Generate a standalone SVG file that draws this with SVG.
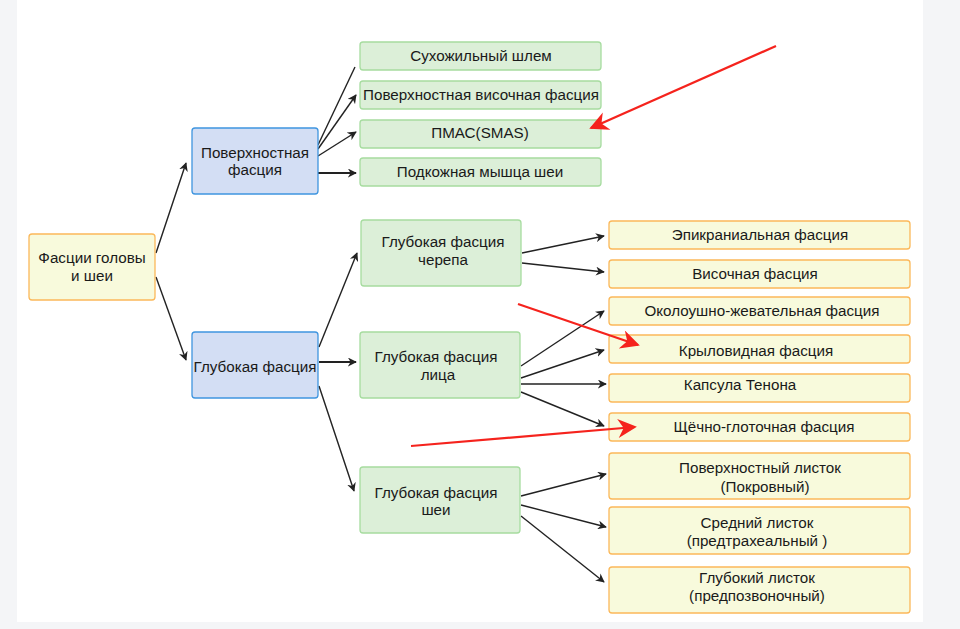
<svg xmlns="http://www.w3.org/2000/svg" width="960" height="629" viewBox="0 0 960 629">
<defs>
<style>
.t{font-family:"Liberation Sans",Arial,sans-serif;font-size:15.2px;fill:#1a1a1a;text-anchor:middle}
.y{fill:#f8fadc;stroke:#fbb85a;stroke-width:1.3}
.g{fill:#dcefd8;stroke:#a6dc9f;stroke-width:1.3}
.b{fill:#d3def4;stroke:#3f95df;stroke-width:1.3}
.c{stroke:#222;stroke-width:1.4;fill:none}
.ct{stroke:#222;stroke-width:2.2;fill:none}
.r{stroke:#f5231d;stroke-width:2.2;fill:none}
</style>
<marker id="a" viewBox="0 0 10 10" refX="9" refY="5" markerWidth="9" markerHeight="9" markerUnits="userSpaceOnUse" orient="auto">
<path d="M0,0 L10,5 L0,10 L3,5 Z" fill="#222"/>
</marker>
<marker id="ra" viewBox="0 0 10 10" refX="9" refY="5" markerWidth="21" markerHeight="19" markerUnits="userSpaceOnUse" orient="auto">
<path d="M0,0 L10,5 L0,10 L3,5 Z" fill="#f5231d"/>
</marker>
</defs>
<rect x="0" y="0" width="960" height="629" fill="#f4f5f7"/>
<rect x="17" y="0" width="906" height="622" fill="#ffffff"/>

<g id="connectors">
<line class="c" x1="156" y1="253" x2="186" y2="163" marker-end="url(#a)"/>
<line class="c" x1="156" y1="277" x2="186" y2="360" marker-end="url(#a)"/>
<line class="c" x1="318" y1="145" x2="355" y2="67"/>
<line class="c" x1="318" y1="149" x2="356" y2="95" marker-end="url(#a)"/>
<line class="c" x1="318" y1="156" x2="356" y2="132" marker-end="url(#a)"/>
<line class="ct" x1="318" y1="173" x2="356" y2="173" marker-end="url(#a)"/>
<line class="c" x1="319" y1="347" x2="357" y2="253" marker-end="url(#a)"/>
<line class="ct" x1="319" y1="362" x2="356" y2="362" marker-end="url(#a)"/>
<line class="c" x1="319" y1="386" x2="354" y2="491" marker-end="url(#a)"/>
<line class="c" x1="522" y1="253" x2="604" y2="236" marker-end="url(#a)"/>
<line class="c" x1="522" y1="263" x2="604" y2="272" marker-end="url(#a)"/>
<line class="c" x1="521" y1="366" x2="604" y2="311" marker-end="url(#a)"/>
<line class="c" x1="521" y1="378" x2="604" y2="350" marker-end="url(#a)"/>
<line class="c" x1="521" y1="384" x2="606" y2="384" marker-end="url(#a)"/>
<line class="c" x1="521" y1="392" x2="604" y2="426" marker-end="url(#a)"/>
<line class="c" x1="521" y1="496" x2="606" y2="474" marker-end="url(#a)"/>
<line class="c" x1="521" y1="505" x2="606" y2="527" marker-end="url(#a)"/>
<line class="c" x1="521" y1="516" x2="604" y2="582" marker-end="url(#a)"/>
</g>

<g id="root"><rect class="y" x="29" y="234" width="126" height="66" rx="3"/><text class="t" x="92" y="263">Фасции головы</text><text class="t" x="92" y="281">и шеи</text></g>
<g id="superficial"><rect class="b" x="192" y="128" width="126" height="66" rx="3"/><text class="t" x="255" y="158">Поверхностная</text><text class="t" x="255" y="175">фасция</text></g>
<g id="deep"><rect class="b" x="192" y="332" width="126" height="66" rx="3"/><text class="t" x="255" y="372">Глубокая фасция</text></g>

<g id="galea"><rect class="g" x="360" y="42" width="241" height="28" rx="3"/><text class="t" x="481" y="61">Сухожильный шлем</text></g>
<g id="suptemp"><rect class="g" x="360" y="81" width="241" height="28" rx="3"/><text class="t" x="481" y="100">Поверхностная височная фасция</text></g>
<g id="smas"><rect class="g" x="360" y="120" width="241" height="28" rx="3"/><text class="t" x="480" y="138">ПМАС(SMAS)</text></g>
<g id="platysma"><rect class="g" x="360" y="158" width="241" height="28" rx="3"/><text class="t" x="480" y="177">Подкожная мышца шеи</text></g>

<g id="skull"><rect class="g" x="361" y="220" width="160" height="66" rx="3"/><text class="t" x="443" y="247">Глубокая фасция</text><text class="t" x="443" y="265">черепа</text></g>
<g id="face"><rect class="g" x="360" y="332" width="160" height="66" rx="3"/><text class="t" x="436" y="362">Глубокая фасция</text><text class="t" x="438" y="380">лица</text></g>
<g id="neck"><rect class="g" x="360" y="467" width="160" height="66" rx="3"/><text class="t" x="436" y="498">Глубокая фасция</text><text class="t" x="436" y="515">шеи</text></g>

<g id="epicranial"><rect class="y" x="609" y="221" width="301" height="28" rx="3"/><text class="t" x="760" y="240">Эпикраниальная фасция</text></g>
<g id="temporal"><rect class="y" x="609" y="260" width="301" height="28" rx="3"/><text class="t" x="755" y="279">Височная фасция</text></g>
<g id="parotid"><rect class="y" x="609" y="297" width="301" height="28" rx="3"/><text class="t" x="762" y="316">Околоушно-жевательная фасция</text></g>
<g id="pterygoid"><rect class="y" x="609" y="335" width="301" height="28" rx="3"/><text class="t" x="756" y="356">Крыловидная фасция</text></g>
<g id="tenon"><rect class="y" x="609" y="374" width="301" height="28" rx="3"/><text class="t" x="740" y="390">Капсула Тенона</text></g>
<g id="bucco"><rect class="y" x="609" y="413" width="301" height="28" rx="3"/><text class="t" x="764" y="432">Щёчно-глоточная фасция</text></g>
<g id="superficial-layer"><rect class="y" x="609" y="453" width="301" height="46" rx="3"/><text class="t" x="760" y="473">Поверхностный листок</text><text class="t" x="765" y="492">(Покровный)</text></g>
<g id="middle-layer"><rect class="y" x="609" y="507" width="301" height="47" rx="3"/><text class="t" x="757" y="528">Средний листок</text><text class="t" x="757" y="546">(предтрахеальный )</text></g>
<g id="deep-layer"><rect class="y" x="609" y="567" width="301" height="46" rx="3"/><text class="t" x="757" y="583">Глубокий листок</text><text class="t" x="757" y="601">(предпозвоночный)</text></g>

<g id="red-arrows">
<line class="r" x1="776" y1="46" x2="591" y2="128" marker-end="url(#ra)"/>
<line class="r" x1="518" y1="304" x2="638" y2="345" marker-end="url(#ra)"/>
<line class="r" x1="411" y1="446" x2="635" y2="427" marker-end="url(#ra)"/>
</g>
</svg>
